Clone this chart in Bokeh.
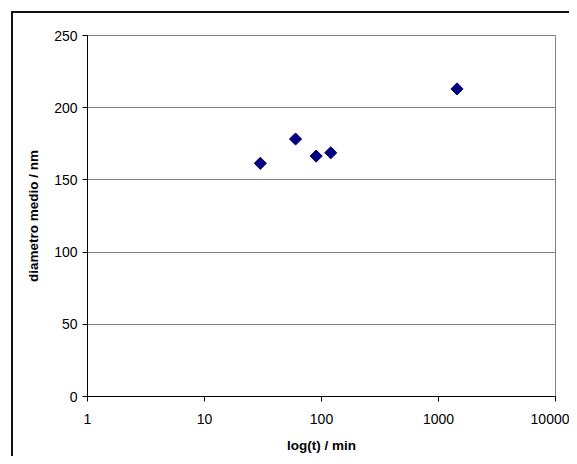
from bokeh.plotting import figure
from bokeh.models import Range1d, FixedTicker, NumeralTickFormatter, ColumnDataSource, InlineStyleSheet
from bokeh.embed import file_html
from bokeh.resources import INLINE
import math

# data
t_min = [30, 60, 90, 120, 1440]
diametro = [161.5, 178.3, 166.5, 168.8, 213.0]
x_ticks = [1, 10, 100, 1000, 10000]
y_ticks = [0, 50, 100, 150, 200, 250]

FONT = "Liberation Sans"

p = figure(width=569, height=456, x_axis_type="log",
           x_range=Range1d(1, 10000), y_range=Range1d(0, 250),
           output_backend="svg", toolbar_location=None,
           frame_width=468, frame_height=361,
           min_border_left=87, min_border_top=35, min_border_right=14, min_border_bottom=60)
p.background_fill_color = "white"
p.border_fill_color = "white"
p.outline_line_color = "#808080"
p.outline_line_width = 1

src = ColumnDataSource(dict(x=t_min, y=diametro))
p.scatter("x", "y", source=src, marker="square", size=8.6, angle=math.pi / 4,
          fill_color="#000080", line_color="#000080")

# grid
p.xgrid.grid_line_color = None
p.ygrid.grid_line_color = "#808080"
p.ygrid.grid_line_width = 1

# axes
p.xaxis.ticker = FixedTicker(ticks=x_ticks)
p.xaxis.formatter = NumeralTickFormatter(format="0")
p.yaxis.ticker = FixedTicker(ticks=y_ticks)
for ax in (p.xaxis[0], p.yaxis[0]):
    ax.axis_line_color = "black"
    ax.major_tick_line_color = "black"
    ax.minor_tick_line_color = None
    ax.major_tick_in = 0
    ax.major_tick_out = 5
    ax.major_label_text_font = FONT
    ax.major_label_text_font_size = "14px"
    ax.major_label_text_color = "black"
    ax.axis_label_text_font = FONT
    ax.axis_label_text_font_size = "13.5px"
    ax.axis_label_text_font_style = "bold"
    ax.axis_label_text_color = "black"

p.xaxis.axis_label = "log(t) / min"
p.yaxis.axis_label = "diametro medio / nm"
p.xaxis.major_label_standoff = 12
p.xaxis.axis_label_standoff = 11
p.yaxis.major_label_standoff = 5
p.yaxis.axis_label_standoff = 10

# outer chart border: only its left and top edges are inside the picture
border_css = InlineStyleSheet(css="""
:host::before {
  content: "";
  position: absolute;
  left: 11px; top: 11px; width: 2px; height: 445px;
  background: #111;
  pointer-events: none; z-index: 100;
}
:host::after {
  content: "";
  position: absolute;
  left: 11px; top: 11px; width: 558px; height: 2px;
  background: #111;
  pointer-events: none; z-index: 100;
}
""")
p.stylesheets = [border_css]

open("out.html", "w").write(file_html(p, INLINE))
